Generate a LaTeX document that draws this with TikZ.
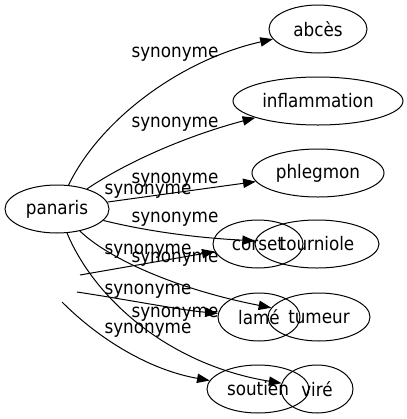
\documentclass[tikz,border=0pt]{standalone}
\usepackage{fontspec}
\setmainfont{DejaVu Sans Condensed}
\usetikzlibrary{shapes.geometric,arrows.meta}

\begin{document}
\begin{tikzpicture}[x=0.75pt,y=-0.75pt]
    \tikzset{myarrow/.style={-{Triangle[length=9.5pt,width=7pt]}, line width=0.75pt}}
    \tikzset{mynode/.style={draw, ellipse, line width=0.75pt, inner sep=0pt, minimum height=36pt, font=\fontsize{14}{16}\selectfont}}
    \tikzset{mylabel/.style={inner sep=0pt, anchor=base, font=\fontsize{14}{16}\selectfont}}

    \useasboundingbox (0,0) rectangle (407,419);

    \draw node[mynode, minimum width=78pt] (panaris) at (57,209) {panaris};
    \draw node[mynode, minimum width=73.5pt] (abces) at (318,29) {abcès};
    \draw node[mynode, minimum width=127.5pt] (inflammation) at (318,101) {inflammation};
    \draw node[mynode, minimum width=99pt] (phlegmon) at (318,173) {phlegmon};
    \draw node[mynode, minimum width=67.5pt] (corset) at (258,244) {corset};
    \draw node[mynode, minimum width=93pt] (tourniole) at (317,244) {tourniole};
    \draw node[mynode, minimum width=61.5pt] (lame) at (259,317) {lamé};
    \draw node[mynode, minimum width=76.5pt] (tumeur) at (319,317) {tumeur};
    \draw node[mynode, minimum width=76.5pt] (soutien) at (258,389) {soutien};
    \draw node[mynode, minimum width=54pt] (vire) at (317,389) {viré};

    \coordinate (free1) at (80,275);
    \coordinate (free2) at (77,292);
    \coordinate (free3) at (62,302);

    \draw[myarrow] (panaris) .. controls (100,120) and (180,60) .. (abces);
    \draw[myarrow] (panaris) .. controls (130,160) and (190,135) .. (inflammation);
    \draw[myarrow] (panaris) -- (phlegmon);
    \draw[myarrow] (panaris) .. controls (150,232) and (200,238) .. (tourniole);
    \draw[myarrow] (panaris) .. controls (110,260) and (180,290) .. (tumeur);
    \draw[myarrow] (panaris) .. controls (95,300) and (170,365) .. (vire);
    \draw[myarrow] (free1) -- (corset);
    \draw[myarrow] (free2) .. controls (130,300) and (180,310) .. (lame);
    \draw[myarrow] (free3) .. controls (100,340) and (150,370) .. (soutien);

    \node[mylabel] (lab1) at (175,57) {synonyme};
    \node[mylabel] (lab2) at (175,127) {synonyme};
    \node[mylabel] (lab3) at (175,183) {synonyme};
    \node[mylabel] (lab4) at (148,194) {synonyme};
    \node[mylabel] (lab5) at (175,222) {synonyme};
    \node[mylabel] (lab6) at (148,254) {synonyme};
    \node[mylabel] (lab7) at (175,262) {synonyme};
    \node[mylabel] (lab8) at (148,294) {synonyme};
    \node[mylabel] (lab9) at (175,317) {synonyme};
    \node[mylabel] (lab10) at (148,333) {synonyme};
  \end{tikzpicture}
\end{document}
